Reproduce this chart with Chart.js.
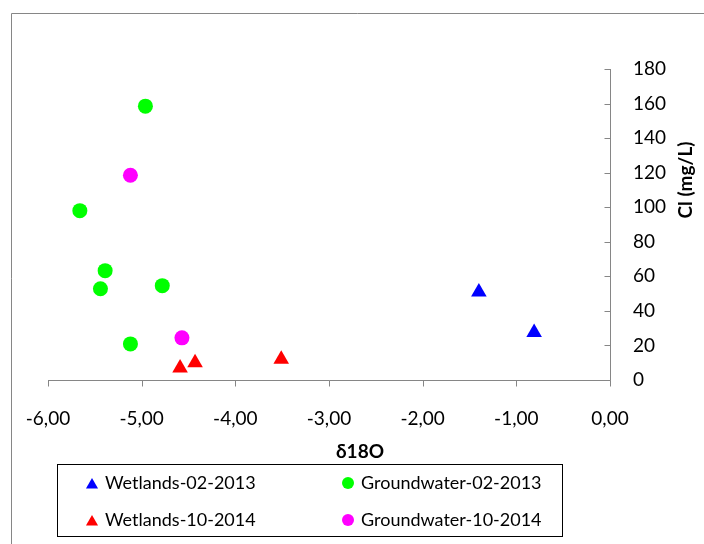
<!DOCTYPE html>
<html>
<head>
<meta charset="utf-8">
<script src="https://cdn.jsdelivr.net/npm/chart.js@4.4.1/dist/chart.umd.min.js"></script>
<style>
  html, body { margin: 0; padding: 0; background: #fff; }
  canvas { display: block; }
</style>
</head>
<body>
<canvas id="chart" width="704" height="544"></canvas>
<script>
// values (delta 18O vs chloride)
const wetlands2013X = [-1.40, -0.81];
const wetlands2013Y = [51, 27.5];
const ground2013X = [-4.96, -5.66, -5.39, -5.44, -4.78, -5.12];
const ground2013Y = [158.5, 98, 63.3, 52.8, 54.6, 20.9];
const wetlands2014X = [-4.59, -4.43, -3.51];
const wetlands2014Y = [7, 10, 12];
const ground2014X = [-5.12, -4.57];
const ground2014Y = [118.5, 24.4];

const seriesNames = ['Wetlands-02-2013', 'Groundwater-02-2013', 'Wetlands-10-2014', 'Groundwater-10-2014'];
const xTitle = 'δ18O';
const yTitle = 'Cl (mg/L)';

const FONT = 'Lato, "Open Sans", "DejaVu Sans", sans-serif';
const AXIS_COLOR = '#868686';

function toPoints(xs, ys) {
    return xs.map((x, i) => ({ x: x, y: ys[i] }));
}

function makeSet(label, xs, ys, colour, style) {
    return {
        label: label,
        data: toPoints(xs, ys),
        backgroundColor: colour,
        borderColor: colour,
        borderWidth: 0,
        pointStyle: style,
        pointRadius: style === 'triangle' ? 9 : 7.5,
        pointHoverRadius: style === 'triangle' ? 9 : 7.5
    };
}

const datasets = [
    makeSet(seriesNames[0], wetlands2013X, wetlands2013Y, '#0000ff', 'triangle'),
    makeSet(seriesNames[1], ground2013X, ground2013Y, '#00ff00', 'circle'),
    makeSet(seriesNames[2], wetlands2014X, wetlands2014Y, '#ff0000', 'triangle'),
    makeSet(seriesNames[3], ground2014X, ground2014Y, '#ff00ff', 'circle')
];

// axis lines, outward ticks, titles, framed legend and chart border
const decorations = {
    id: 'decorations',
    beforeDraw(chart) {
        const ctx = chart.ctx;
        ctx.save();
        ctx.fillStyle = '#fff';
        ctx.fillRect(0, 0, chart.width, chart.height);
        ctx.strokeStyle = AXIS_COLOR;
        ctx.lineWidth = 1;
        ctx.beginPath();
        ctx.moveTo(11.5, chart.height);
        ctx.lineTo(11.5, 13.5);
        ctx.lineTo(chart.width, 13.5);
        ctx.stroke();
        ctx.restore();
    },
    beforeDatasetsDraw(chart) {
        const ctx = chart.ctx;
        const xs = chart.scales.x;
        const ys = chart.scales.y;
        const area = chart.chartArea;
        ctx.save();
        ctx.strokeStyle = AXIS_COLOR;
        ctx.lineWidth = 1;
        ctx.beginPath();
        const by = Math.round(area.bottom) + 0.5;
        const rx = Math.round(area.right) + 0.5;
        ctx.moveTo(area.left, by);
        ctx.lineTo(rx, by);
        ctx.moveTo(rx, by);
        ctx.lineTo(rx, area.top);
        xs.ticks.forEach(t => {
            const px = Math.round(xs.getPixelForValue(t.value)) + 0.5;
            ctx.moveTo(px, by);
            ctx.lineTo(px, by + 6);
        });
        ys.ticks.forEach(t => {
            const py = Math.round(ys.getPixelForValue(t.value)) + 0.5;
            ctx.moveTo(rx, py);
            ctx.lineTo(rx - 6, py);
        });
        ctx.stroke();

        // axis titles
        ctx.fillStyle = '#000';
        ctx.font = 'bold 19px ' + FONT;
        ctx.textAlign = 'center';
        ctx.textBaseline = 'middle';
        ctx.fillText(xTitle, 360, 452);
        ctx.translate(686, 180);
        ctx.rotate(-Math.PI / 2);
        ctx.fillText(yTitle, 0, 0);
        ctx.restore();
    },
    afterDraw(chart) {
        const ctx = chart.ctx;
        ctx.save();
        ctx.strokeStyle = '#000';
        ctx.lineWidth = 1;
        ctx.strokeRect(57.5, 464.5, 505, 72);
        const slots = [
            { x: 92, y: 483 }, { x: 348, y: 483 },
            { x: 92, y: 520 }, { x: 348, y: 520 }
        ];
        ctx.font = '18px ' + FONT;
        ctx.textAlign = 'left';
        ctx.textBaseline = 'middle';
        chart.data.datasets.forEach((ds, i) => {
            const s = slots[i];
            ctx.fillStyle = ds.backgroundColor;
            ctx.strokeStyle = ds.borderColor;
            Chart.helpers.drawPoint(ctx, {
                pointStyle: ds.pointStyle,
                radius: ds.pointStyle === 'triangle' ? 7 : 6,
                rotation: 0,
                borderWidth: 0
            }, s.x, s.y + (ds.pointStyle === 'triangle' ? 2 : 0));
            ctx.fillStyle = '#000';
            ctx.fillText(ds.label, s.x + 13, s.y);
        });
        ctx.restore();
    }
};

new Chart(document.getElementById('chart').getContext('2d'), {
    type: 'scatter',
    data: { datasets: datasets },
    options: {
        responsive: false,
        animation: false,
        devicePixelRatio: 1,
        layout: { padding: { left: 48, top: 69, right: 0, bottom: 0 } },
        plugins: {
            legend: { display: false },
            tooltip: { enabled: false }
        },
        scales: {
            x: {
                type: 'linear',
                position: 'bottom',
                min: -6,
                max: 0,
                grid: { display: false },
                border: { display: false },
                ticks: {
                    stepSize: 1,
                    padding: 19,
                    color: '#000',
                    font: { family: FONT, size: 19 },
                    callback: v => v.toFixed(2).replace('.', ',')
                },
                afterFit: scale => { scale.height = 164; }
            },
            y: {
                type: 'linear',
                position: 'right',
                min: 0,
                max: 180,
                grid: { display: false },
                border: { display: false },
                ticks: {
                    stepSize: 20,
                    padding: 15,
                    color: '#000',
                    font: { family: FONT, size: 19 }
                },
                afterFit: scale => { scale.width = 94; }
            }
        }
    },
    plugins: [decorations]
});
</script>
</body>
</html>
